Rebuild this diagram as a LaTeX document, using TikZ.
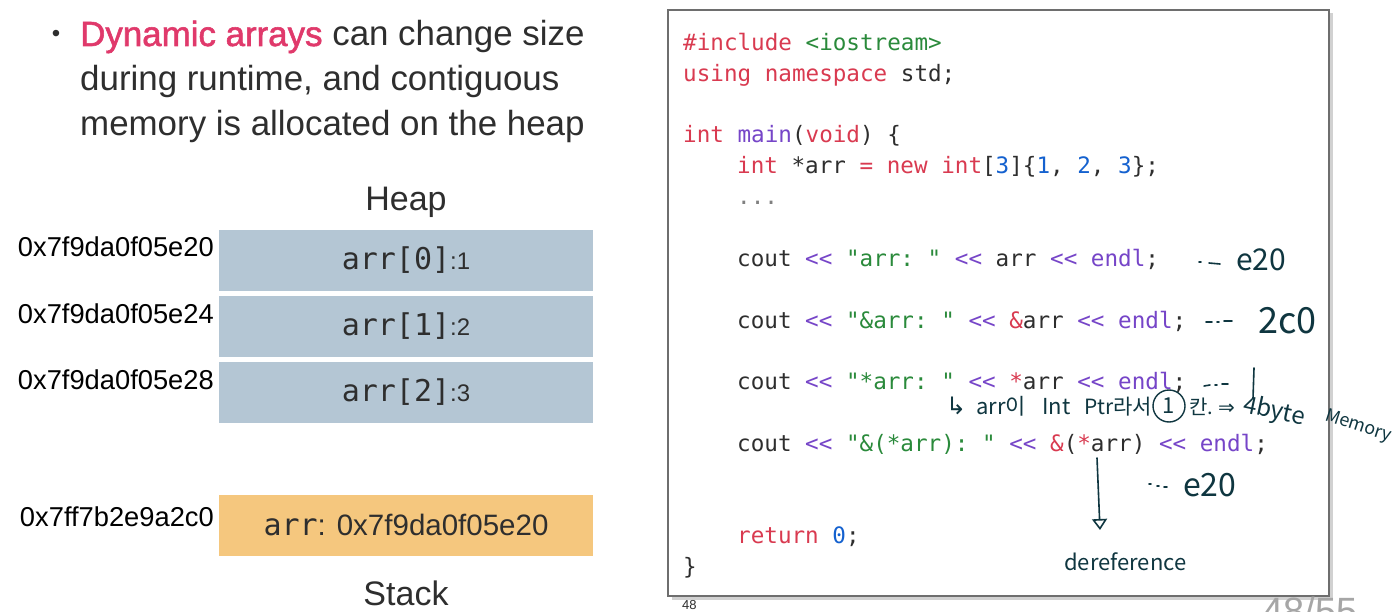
\documentclass[tikz,border=0pt]{standalone}
\usepackage{fontspec}
\setmainfont{Liberation Sans}
\setmonofont{DejaVu Sans Mono}
\newfontfamily\semib{Liberation Sans}[FakeBold=1.6]
\newfontfamily\cjk{Noto Sans CJK KR}
\newfontfamily\dejavu{DejaVu Sans}
\usetikzlibrary{arrows.meta}
\definecolor{pinkred}{HTML}{E0396B}
\definecolor{bodytxt}{HTML}{2E2E2E}
\definecolor{heapblue}{HTML}{B4C6D4}
\definecolor{stackor}{HTML}{F5C77E}
\definecolor{cred}{HTML}{D93A50}
\definecolor{cgreen}{HTML}{2A8A3B}
\definecolor{cpurple}{HTML}{7645C8}
\definecolor{cblue}{HTML}{1461CF}
\definecolor{handc}{HTML}{0F3640}
\definecolor{boxborder}{HTML}{6E6E6E}
\newcommand\ckw[1]{\textcolor{cred}{#1}}
\newcommand\cstr[1]{\textcolor{cgreen}{#1}}
\newcommand\cfn[1]{\textcolor{cpurple}{#1}}
\newcommand\cnum[1]{\textcolor{cblue}{#1}}
\tikzset{
  bodyline/.style={anchor=base west, inner sep=0, text=bodytxt, font=\fontsize{34.9}{40}\selectfont},
  memtitle/.style={anchor=base, inner sep=0, text=bodytxt, font=\fontsize{34}{40}\selectfont},
  heapbox/.style={fill=heapblue, minimum width=374, minimum height=61, inner sep=0, text=bodytxt},
  stackbox/.style={fill=stackor, minimum width=374, minimum height=61, inner sep=0, text=bodytxt},
  addr/.style={anchor=base east, inner sep=0, text=black, font=\fontsize{27.3}{30}\selectfont},
  codeline/.style={anchor=base west, inner sep=0, text=bodytxt, font=\ttfamily\fontsize{22.6}{26}\selectfont},
  hand/.style={anchor=base west, inner sep=0, text=handc, font=\cjk\fontsize{22}{24}\selectfont},
  handline/.style={draw=handc, line width=1.6, line cap=round},
}
\begin{document}
\begin{tikzpicture}[x=1pt,y=-1pt]
\useasboundingbox (0,0) rectangle (1396,612);
\fill[white] (0,0) rectangle (1396,612);

% bullet text
\node[inner sep=0, text=bodytxt, font=\fontsize{24}{24}\selectfont] (bul) at (56,36) {•};
\node[bodyline] (t1) at (80,46) {\textcolor{pinkred}{\semib Dynamic arrays} can change size};
\node[bodyline] (t2) at (80,91) {during runtime, and contiguous};
\node[bodyline] (t3) at (80,136) {memory is allocated on the heap};

% heap
\node[memtitle] (heap) at (406,211) {Heap};
\node[heapbox] (h0) at (406,260.5) {{\ttfamily\fontsize{30}{30}\selectfont arr[0]}{\fontsize{24}{26}\selectfont :1}};
\node[heapbox] (h1) at (406,326.5) {{\ttfamily\fontsize{30}{30}\selectfont arr[1]}{\fontsize{24}{26}\selectfont :2}};
\node[heapbox] (h2) at (406,392.5) {{\ttfamily\fontsize{30}{30}\selectfont arr[2]}{\fontsize{24}{26}\selectfont :3}};
\node[addr] (a0) at (214,257) {0x7f9da0f05e20};
\node[addr] (a1) at (214,323) {0x7f9da0f05e24};
\node[addr] (a2) at (214,389) {0x7f9da0f05e28};

% stack
\node[stackbox] (s0) at (406,525.5) {{\ttfamily\fontsize{30}{30}\selectfont arr}{\fontsize{29.5}{30}\selectfont : 0x7f9da0f05e20}};
\node[addr] (as) at (214,526) {0x7ff7b2e9a2c0};
\node[memtitle] (stack) at (406,605) {Stack};

% code box
\fill[black!18] (671.5,13.5) rectangle (1332.5,599.5);
\node[draw=boxborder, line width=2, fill=white, minimum width=661, minimum height=586, inner sep=0] (code) at (998.5,303) {};

\node[codeline] (l1) at (683,51) {\ckw{\#include} \cstr{<iostream>}};
\node[codeline] (l2) at (683,82) {\ckw{using namespace} std;};
\node[codeline] (l3) at (683,143) {\ckw{int} \cfn{main}(\ckw{void}) \{};
\node[codeline] (l4) at (737,174) {\ckw{int} *arr \ckw{=} \ckw{new int}[\cnum{3}]\{\cnum{1}, \cnum{2}, \cnum{3}\};};
\node[codeline] (l5) at (737,205) {\textcolor{gray}{...}};
\node[codeline] (l6) at (737,266) {cout \cfn{<<} \cstr{"arr: "} \cfn{<<} arr \cfn{<<} \cfn{endl};};
\node[codeline] (l7) at (737,328) {cout \cfn{<<} \cstr{"\&arr: "} \cfn{<<} \ckw{\&}arr \cfn{<<} \cfn{endl};};
\node[codeline] (l8) at (737,389) {cout \cfn{<<} \cstr{"*arr: "} \cfn{<<} \ckw{*}arr \cfn{<<} \cfn{endl};};
\node[codeline] (l9) at (737,451) {cout \cfn{<<} \cstr{"\&(*arr): "} \cfn{<<} \ckw{\&}(\ckw{*}arr) \cfn{<<} \cfn{endl};};
\node[codeline] (l10) at (737,543) {\ckw{return} \cnum{0};};
\node[codeline] (l11) at (683,574) {\}};

% page numbers
\node[anchor=base west, inner sep=0, text=bodytxt, font=\fontsize{13}{14}\selectfont] (pg) at (682,609) {48};
\node[anchor=base west, inner sep=0, text=black!35, font=\fontsize{38}{40}\selectfont] (pgbig) at (1262,624) {48/55};

% handwritten annotations
\draw[handline] (1199,262) -- (1201,262) (1209,263) -- (1220,264);
\node[hand, font=\cjk\fontsize{30}{32}\selectfont] (n1) at (1236,270) {e20};
\draw[handline] (1206,322) -- (1212,322) (1217,322) -- (1219,322) (1224,321) -- (1232,321);
\node[hand, font=\cjk\fontsize{36}{38}\selectfont] (n2) at (1258,333) {2c0};
\draw[handline] (1204,386) -- (1210,385) (1215,385) -- (1217,385) (1222,384) -- (1228,384);
\coordinate (v1a) at (1254,368);
\coordinate (v1b) at (1253,398);
\draw[handline] (v1a) -- (v1b);

\node[hand, font=\dejavu\fontsize{24}{26}\selectfont] (n3a) at (946,414) {↳};
\node[hand] (n3b) at (976,414) {arr이};
\node[hand] (n3c) at (1042,414) {Int};
\node[hand, font=\cjk\fontsize{21}{24}\selectfont] (n3d) at (1084,414) {Ptr라서};
\node[circle, draw=handc, line width=1.4, inner sep=0, minimum size=32, text=handc, font=\cjk\fontsize{22}{24}\selectfont] (n3e) at (1169,406) {1};
\node[hand, font=\cjk\fontsize{20}{22}\selectfont] (n3f) at (1189,414) {칸.};
\node[hand, font=\dejavu\fontsize{20}{22}\selectfont] (n3g) at (1218,414) {⇒};
\node[hand, anchor=base west, rotate=-12, font=\cjk\fontsize{24}{26}\selectfont] (n3h) at (1242,412) {4byte};
\node[hand, anchor=base west, rotate=-18, font=\cjk\fontsize{18}{20}\selectfont] (n3i) at (1324,420) {Memory};

\coordinate (arrs) at (1097,458);
\coordinate (arre) at (1100,530);
\draw[handline, -{Triangle[open, length=11, width=15]}] (arrs) -- (arre);

\draw[handline] (1149,484) -- (1151,484) (1157,486) -- (1159,486) (1164,487) -- (1167,487);
\node[hand, font=\cjk\fontsize{32}{34}\selectfont] (n4) at (1183,496) {e20};
\node[hand, font=\cjk\fontsize{22}{24}\selectfont] (n5) at (1064,570) {dereference};
\end{tikzpicture}
\end{document}
